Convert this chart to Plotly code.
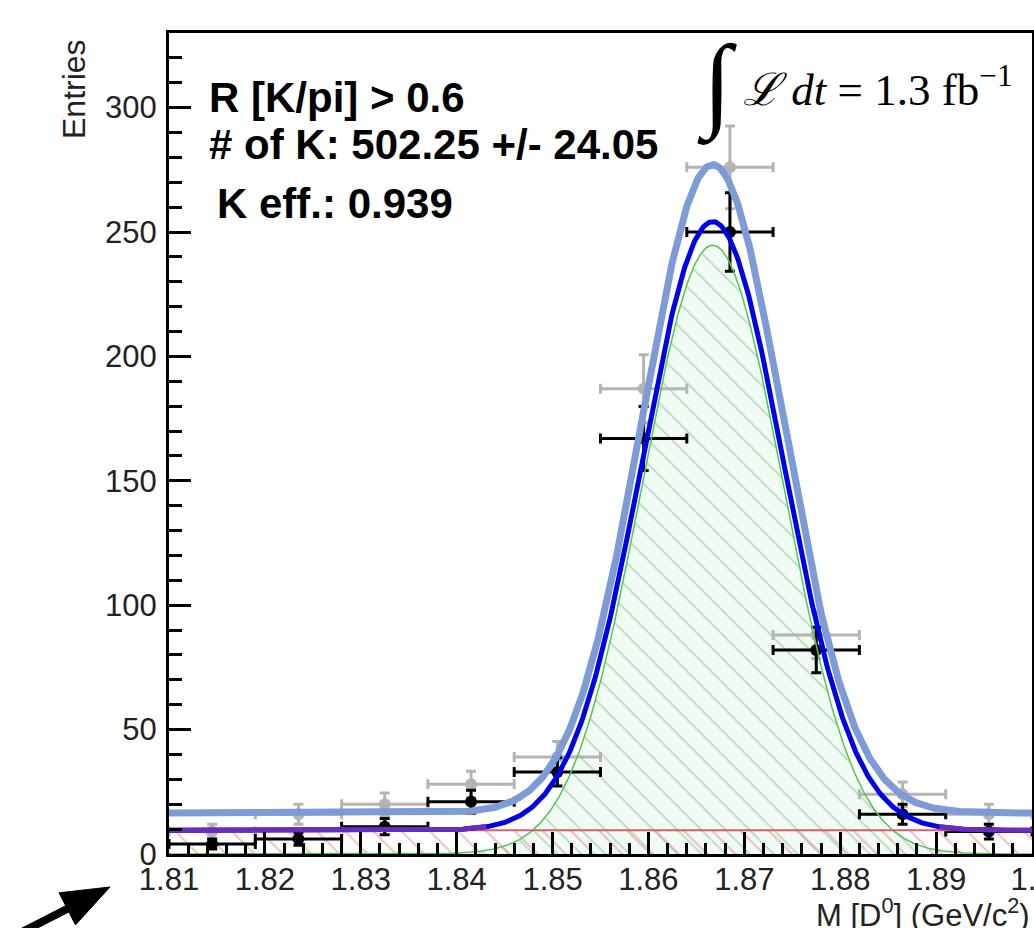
import numpy as np
import plotly.graph_objects as go

# ---- histogram data: D0 mass, 10 bins of 9 MeV between 1.81 and 1.90 GeV/c^2 ----
BIN_CENTERS = [1.8145, 1.8235, 1.8325, 1.8415, 1.8505, 1.8595, 1.8685, 1.8775, 1.8865, 1.8955]
BIN_HALF_WIDTH = [0.0045] * 10

# all candidates (grey)
ALL_COUNTS = [9, 16, 20, 28, 39, 187, 276, 88, 24, 16]
ALL_ERRORS = [3.0, 4.0, 4.5, 5.3, 6.2, 13.7, 16.6, 9.4, 4.9, 4.0]

# candidates passing R[K/pi] > 0.6 (black)
CUT_COUNTS = [4, 6, 11, 21, 33, 167, 250, 82, 16, 9]
CUT_ERRORS = [2.0, 2.5, 3.3, 4.6, 5.7, 12.9, 15.8, 9.1, 4.0, 3.0]

# ---- fit results ----
N_KAONS = 502.25          # signal yield after the cut
N_KAONS_ERR = 24.05
K_EFF = 0.939             # efficiency of the cut
PEAK_MEAN = 1.8667
PEAK_SIGMA = 0.00737
BKG_CUT = 9.5             # flat background per bin, after cut
BKG_ALL = 16.5            # flat background per bin, all candidates
BIN_WIDTH = 0.009

X_RANGE = [1.81, 1.90]
Y_RANGE = [0, 330]
X_TICKS = [1.81, 1.82, 1.83, 1.84, 1.85, 1.86, 1.87, 1.88, 1.89, 1.90]
X_TICK_TEXT = ["1.81", "1.82", "1.83", "1.84", "1.85", "1.86", "1.87", "1.88", "1.89", "1.9"]
Y_TICKS = [0, 50, 100, 150, 200, 250, 300]

W, H = 1034, 928
L, R, T, B = 169, 2, 33, 74


def gauss(x, n_sig, mean, sigma):
    amp = n_sig * BIN_WIDTH / (sigma * np.sqrt(2 * np.pi))
    return amp * np.exp(-0.5 * ((x - mean) / sigma) ** 2)


xs = np.linspace(X_RANGE[0], X_RANGE[1], 700)
sig_cut = gauss(xs, N_KAONS, PEAK_MEAN, PEAK_SIGMA)
sig_all = gauss(xs, N_KAONS / K_EFF, PEAK_MEAN, PEAK_SIGMA)
tot_cut = sig_cut + BKG_CUT
tot_all = sig_all + BKG_ALL
bkg_line = np.full_like(xs, BKG_CUT)


def px(x):
    return (x - L) / (W - L - R)


def py(y):
    return (H - B - y) / (H - T - B)


CLEAR = "rgba(0,0,0,0)"
fig = go.Figure()

# hatched signal component
fig.add_trace(go.Scatter(
    x=xs, y=sig_cut, mode="lines", fill="tozeroy", fillcolor="rgb(240,251,244)",
    line=dict(color=CLEAR, width=0),
    fillpattern=dict(shape="\\", fgcolor="rgb(135,185,145)", bgcolor="rgb(240,251,244)",
                     size=17, solidity=0.11),
    hoverinfo="skip", showlegend=False))

# hatched background component
fig.add_trace(go.Scatter(
    x=xs, y=bkg_line, mode="lines", fill="tozeroy", fillcolor=CLEAR,
    line=dict(color=CLEAR, width=0),
    fillpattern=dict(shape="\\", fgcolor="rgb(225,135,135)", bgcolor=CLEAR,
                     size=20, solidity=0.11),
    hoverinfo="skip", showlegend=False))

# data points
fig.add_trace(go.Scatter(
    x=BIN_CENTERS, y=ALL_COUNTS, mode="markers",
    marker=dict(color="rgb(180,180,180)", size=12),
    error_y=dict(type="data", array=ALL_ERRORS, color="rgb(180,180,180)", thickness=3, width=5),
    error_x=dict(type="data", array=BIN_HALF_WIDTH, color="rgb(180,180,180)", thickness=3, width=5),
    showlegend=False))
fig.add_trace(go.Scatter(
    x=BIN_CENTERS, y=CUT_COUNTS, mode="markers",
    marker=dict(color="black", size=12),
    error_y=dict(type="data", array=CUT_ERRORS, color="black", thickness=3, width=5),
    error_x=dict(type="data", array=BIN_HALF_WIDTH, color="black", thickness=3, width=5),
    showlegend=False))

# fit components
fig.add_trace(go.Scatter(x=xs, y=sig_cut, mode="lines",
                         line=dict(color="rgb(80,200,80)", width=1.5), showlegend=False))
fig.add_trace(go.Scatter(x=xs, y=bkg_line, mode="lines",
                         line=dict(color="rgb(215,95,105)", width=2), showlegend=False))
fig.add_trace(go.Scatter(x=xs, y=tot_all, mode="lines",
                         line=dict(color="rgb(125,155,215)", width=7), showlegend=False))
fig.add_trace(go.Scatter(x=xs, y=tot_cut, mode="lines",
                         line=dict(color="rgb(0,0,235)", width=5), showlegend=False))
# flat tails of the total fit sit on the background line
tail = np.where(sig_cut < 1.5, tot_cut, np.nan)
fig.add_trace(go.Scatter(x=xs, y=tail, mode="lines", connectgaps=False,
                         line=dict(color="rgb(105,45,185)", width=5), showlegend=False))

axis_font = dict(family="Liberation Sans, Arial, sans-serif", size=31, color="#222")

fig.update_xaxes(
    range=X_RANGE, tickvals=X_TICKS, ticktext=X_TICK_TEXT, automargin=False,
    ticks="inside", ticklen=22, tickwidth=2.5, tickcolor="black",
    minor=dict(dtick=0.002, ticks="inside", ticklen=11, tickwidth=2.5, tickcolor="black"),
    showline=True, linecolor="black", linewidth=3, mirror=True,
    showgrid=False, zeroline=False, tickfont=axis_font,
    ticklabeloverflow="allow")
try:
    fig.update_xaxes(ticklabelstandoff=-4)
except ValueError:
    fig.update_xaxes(ticklabelstandoff=0)
fig.update_yaxes(
    range=Y_RANGE, tickvals=Y_TICKS, automargin=False,
    ticks="inside", ticklen=22, tickwidth=2.5, tickcolor="black",
    minor=dict(dtick=10, ticks="inside", ticklen=13, tickwidth=2.5, tickcolor="black"),
    showline=True, linecolor="black", linewidth=3, mirror=True,
    showgrid=False, zeroline=False, tickfont=axis_font, ticklabelstandoff=3)

bold = dict(family="Liberation Sans, Arial, sans-serif", size=42, color="black")
math_font = dict(family="Liberation Serif, DejaVu Serif, serif", size=45, color="black")
annotations = [
    dict(x=px(207), y=py(97), text="<b>R [K/pi] > 0.6</b>", xanchor="left", yanchor="middle", font=bold),
    dict(x=px(207), y=py(144), text=f"<b># of K: {N_KAONS} +/- {N_KAONS_ERR}</b>",
         xanchor="left", yanchor="middle", font=bold),
    dict(x=px(215), y=py(204), text=f"<b>K eff.: {K_EFF}</b>", xanchor="left", yanchor="middle", font=bold),
    dict(x=px(717), y=py(84), text="∫", xanchor="center", yanchor="middle",
         font=dict(family="Liberation Serif, serif", size=104, color="black")),
    dict(x=px(741), y=py(86), text="<i>ℒ</i> <i>dt</i> = 1.3 fb<sup>−1</sup>",
         xanchor="left", yanchor="middle", font=math_font),
    dict(x=px(74), y=py(37), text="Entries", textangle=-90, xanchor="center", yanchor="top",
         font=dict(family="Liberation Sans, Arial, sans-serif", size=32, color="#222")),
    dict(x=px(1032), y=py(935), text="M [D<sup>0</sup>] (GeV/c<sup>2</sup>)", xanchor="right", yanchor="bottom",
         font=dict(family="Liberation Sans, Arial, sans-serif", size=31, color="#222")),
]
for a in annotations:
    a.update(xref="paper", yref="paper", showarrow=False)

# pointer arrow at the lower left
tip = np.array([110.0, 887.0])
u = np.array([88.0, -45.0])
u /= np.linalg.norm(u)
n = np.array([-u[1], u[0]])
base = tip - 48 * u
tail_c = tip - 115 * u
pts = [tip, base + 18 * n, base + 3.5 * n, tail_c + 3.5 * n, tail_c - 3.5 * n, base - 3.5 * n, base - 18 * n]
path = "M " + " L ".join(f"{px(p[0]):.5f},{py(p[1]):.5f}" for p in pts) + " Z"

fig.update_layout(
    width=W, height=H, margin=dict(l=L, r=R, t=T, b=B),
    plot_bgcolor="white", paper_bgcolor="white",
    annotations=annotations,
    shapes=[dict(type="path", path=path, xref="paper", yref="paper",
                 fillcolor="black", line=dict(color="black", width=1), layer="above")],
)

fig.write_html("out.html")
